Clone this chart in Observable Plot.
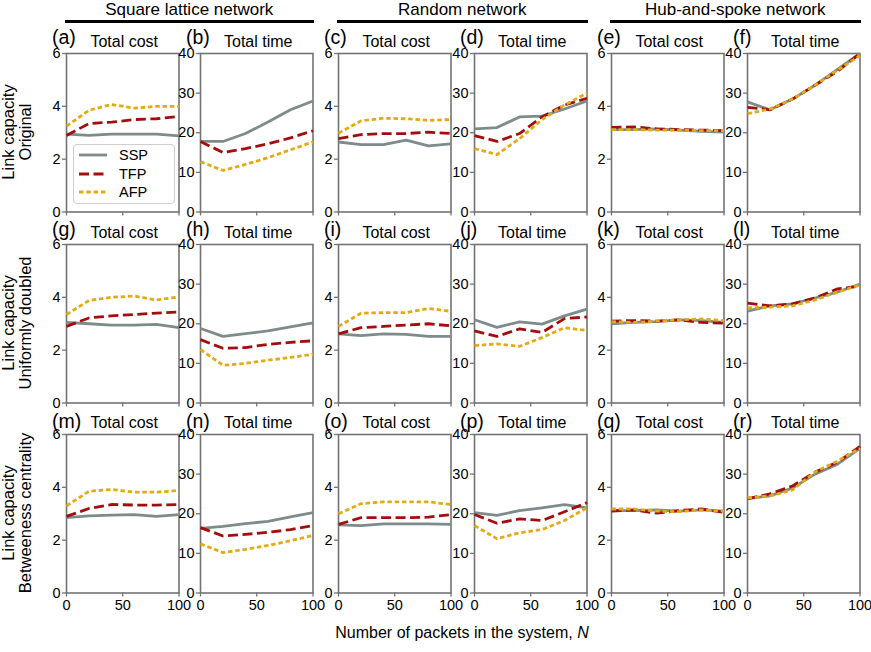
<!DOCTYPE html>
<html>
<head>
<meta charset="utf-8">
<script src="https://cdn.jsdelivr.net/npm/d3@7"></script>
<script src="https://cdn.jsdelivr.net/npm/@observablehq/plot@0.6"></script>
<style>
  html, body { margin: 0; padding: 0; background: #fff; }
  #root { position: relative; width: 871px; height: 652px; font-family: "Liberation Sans", Arial, sans-serif; color: #000; overflow: hidden; }
  .abs { position: absolute; white-space: nowrap; }
</style>
</head>
<body>
<div id="root"></div>
<script>
// ---------- data ----------
const N = [0, 20, 40, 60, 80, 100];
const methods = ["SSP", "TFP", "AFP"];
const networks = ["Square lattice network", "Random network", "Hub-and-spoke network"];
const capacities = [["Link capacity", "Original"], ["Link capacity", "Uniformly doubled"], ["Link capacity", "Betweeness centrality"]];
const metrics = ["Total cost", "Total time"];
const panelLetters = ["a","b","c","d","e","f","g","h","i","j","k","l","m","n","o","p","q","r"];
const costTicks = [0, 2, 4, 6];
const timeTicks = [0, 10, 20, 30, 40];
const xTicks = [0, 50, 100];

// Row 1: original capacity
const pA = { SSP: [2.95, 2.9, 2.95, 2.95, 2.95, 2.88], TFP: [2.9, 3.35, 3.4, 3.5, 3.53, 3.62], AFP: [3.25, 3.85, 4.07, 3.93, 4.0, 4.0] };
const pB = { SSP: [17.8, 17.8, 19.8, 22.7, 25.8, 28], TFP: [17.8, 15, 16, 17.2, 18.7, 20.5], AFP: [12.7, 10.5, 12, 13.7, 15.7, 17.7] };
const pC = { SSP: [2.65, 2.55, 2.55, 2.72, 2.5, 2.58], TFP: [2.78, 2.93, 2.97, 2.97, 3.02, 2.97], AFP: [2.98, 3.45, 3.55, 3.53, 3.47, 3.5] };
const pD = { SSP: [21, 21.3, 24, 24.2, 26, 28], TFP: [19.3, 17.8, 19.8, 24, 27, 28.7], AFP: [16, 14.5, 18.5, 23.3, 27, 30] };
const pE = { SSP: [3.12, 3.12, 3.15, 3.1, 3.05, 3.02], TFP: [3.2, 3.22, 3.15, 3.12, 3.1, 3.08], AFP: [3.12, 3.12, 3.1, 3.1, 3.08, 3.08] };
const pF = { SSP: [27.8, 25.8, 28.5, 32, 36, 40], TFP: [26.4, 25.8, 28.5, 32, 35.5, 40], AFP: [24.8, 26, 28.5, 32, 35.8, 39.5] };
// Row 2: uniformly doubled
const pG = { SSP: [3.05, 3.0, 2.95, 2.95, 2.98, 2.85], TFP: [2.9, 3.22, 3.3, 3.35, 3.4, 3.45], AFP: [3.35, 3.88, 4.0, 4.05, 3.9, 4.02] };
const pH = { SSP: [18.8, 16.8, 17.5, 18.2, 19.2, 20.2], TFP: [16, 13.8, 14.0, 14.8, 15.3, 15.7], AFP: [13.5, 9.5, 10, 10.8, 11.5, 12.3] };
const pI = { SSP: [2.62, 2.55, 2.62, 2.6, 2.52, 2.52], TFP: [2.62, 2.85, 2.9, 2.95, 3.0, 2.92], AFP: [2.9, 3.4, 3.42, 3.42, 3.58, 3.47] };
const pJ = { SSP: [21, 19.1, 20.5, 19.9, 22, 23.7], TFP: [18.2, 16.8, 18.7, 17.8, 21.3, 21.7], AFP: [14.5, 14.9, 14.3, 16.5, 19.0, 18.3] };
const pK = { SSP: [3.0, 3.05, 3.08, 3.15, 3.12, 3.05], TFP: [3.1, 3.12, 3.1, 3.15, 3.05, 3.02], AFP: [3.08, 3.05, 3.1, 3.15, 3.18, 3.12] };
const pL = { SSP: [23.2, 24.5, 25, 26.5, 28, 30], TFP: [25.2, 24.5, 25, 26.5, 28.8, 29.5], AFP: [24, 24.2, 24.5, 26, 28, 29.8] };
// Row 3: betweenness centrality
const pM = { SSP: [2.85, 2.92, 2.95, 2.97, 2.9, 2.97], TFP: [2.9, 3.2, 3.35, 3.33, 3.33, 3.35], AFP: [3.3, 3.85, 3.92, 3.82, 3.82, 3.88] };
const pN = { SSP: [16.3, 16.8, 17.5, 18.1, 19.2, 20.3], TFP: [16.5, 14.4, 14.8, 15.3, 16, 17], AFP: [12.4, 10.2, 11, 12, 13.2, 14.5] };
const pO = { SSP: [2.58, 2.55, 2.62, 2.62, 2.62, 2.6], TFP: [2.6, 2.85, 2.85, 2.85, 2.87, 2.97], AFP: [3.0, 3.38, 3.45, 3.45, 3.45, 3.35] };
const pP = { SSP: [20.3, 19.6, 20.8, 21.5, 22.3, 21.5], TFP: [19.8, 17.6, 18.7, 18.3, 20.5, 22.8], AFP: [17, 13.7, 15.2, 16, 18.3, 21.5] };
const pQ = { SSP: [3.12, 3.12, 3.15, 3.1, 3.15, 3.1], TFP: [3.1, 3.15, 3.02, 3.12, 3.18, 3.05], AFP: [3.18, 3.18, 3.1, 3.08, 3.15, 3.1] };
const pR = { SSP: [23.8, 24.5, 26.5, 30, 32.5, 36.5], TFP: [23.8, 25, 27, 30.5, 33, 37], AFP: [24, 24.5, 26, 30.5, 33.3, 36.5] };

const panels = [pA, pB, pC, pD, pE, pF, pG, pH, pI, pJ, pK, pL, pM, pN, pO, pP, pQ, pR];

// ---------- styles ----------
const colors = { SSP: "#7e8b8b", TFP: "#a30d0d", AFP: "#e3aa14" };
const dashes = { SSP: null, TFP: "10,4.5", AFP: "4.5,2.8" };
const lineW = 2.8;
const frameColor = "#737373";

// ---------- layout ----------
const colLeft = [66, 200, 338, 474, 611, 747];
const rowTop = [53, 244, 434];
const letterBase = [9.5, 8, 6];   // baseline offset of panel letters above each row
const pw = 112.5, ph = 158.5;
const mL = 34, mR = 10, mT = 4, mB = 24;

const root = document.getElementById("root");
function addDiv(html, css) {
  const d = document.createElement("div");
  d.className = "abs";
  d.innerHTML = html;
  Object.assign(d.style, css);
  root.appendChild(d);
  return d;
}

panels.forEach((p, idx) => {
  const r = Math.floor(idx / 6), c = idx % 6;
  const isCost = c % 2 === 0;
  const yDomain = isCost ? [0, 6] : [0, 40];
  const yt = isCost ? costTicks : timeTicks;
  const bottom = r === 2;
  const marks = [];
  marks.push(Plot.frame({ stroke: frameColor, strokeWidth: 1.6 }));
  marks.push(Plot.axisY({ ticks: yt, tickSize: 4, tickPadding: 2, stroke: frameColor, strokeWidth: 1.3, fill: "#000", fontSize: 14.5, label: null, tickFormat: d => String(d) }));
  if (bottom) {
    marks.push(Plot.axisX({ ticks: xTicks, tickSize: 4, tickPadding: 3, stroke: frameColor, strokeWidth: 1.3, fill: "#000", fontSize: 14.5, label: null, tickFormat: d => String(d) }));
  } else {
    marks.push(Plot.tickX(xTicks, { x: d => d, stroke: frameColor, strokeWidth: 1.3, insetTop: ph, insetBottom: -4 }));
  }
  methods.forEach(m => {
    const rows = N.map((n, i) => ({ n, v: p[m][i] }));
    const opts = { x: "n", y: "v", stroke: colors[m], strokeWidth: lineW, strokeLinejoin: "round", strokeLinecap: "butt" };
    if (dashes[m]) opts.strokeDasharray = dashes[m];
    marks.push(Plot.line(rows, opts));
  });
  const svg = Plot.plot({
    width: pw + mL + mR,
    height: ph + mT + mB,
    marginLeft: mL, marginRight: mR, marginTop: mT, marginBottom: mB,
    x: { domain: [0, 100], axis: null },
    y: { domain: yDomain, axis: null },
    style: { background: "transparent", overflow: "visible", fontFamily: "'Liberation Sans', Arial, sans-serif", fontSize: "14.5px", color: "#000" },
    marks
  });
  svg.style.position = "absolute";
  svg.style.left = (colLeft[c] - mL) + "px";
  svg.style.top = (rowTop[r] - mT) + "px";
  svg.style.maxWidth = "none";
  root.appendChild(svg);

  // panel letter and title
  addDiv("(" + panelLetters[idx] + ")", { left: (colLeft[c] - 14) + "px", top: (rowTop[r] - letterBase[r] - 11.76) + "px", fontSize: "19.5px", lineHeight: "10px" });
  addDiv(metrics[c % 2], { left: (colLeft[c] + pw / 2 + 2) + "px", top: (rowTop[r] - 16.6) + "px", fontSize: "16px", lineHeight: "12px", transform: "translateX(-50%)" });
});

// network headers
networks.forEach((name, k) => {
  const x0 = colLeft[2 * k] - 1, x1 = colLeft[2 * k + 1] + pw + 1;
  addDiv(name, { left: ((x0 + x1) / 2) + "px", top: "0px", fontSize: "17px", lineHeight: "19px", transform: "translateX(-50%)" });
  addDiv("", { left: x0 + "px", top: "20px", width: (x1 - x0) + "px", height: "3px", background: "#000" });
});

// row labels
capacities.forEach((lines, r) => {
  const cy = rowTop[r] + ph / 2;
  addDiv(lines[0] + "<br>" + lines[1], {
    left: "17px", top: cy + "px", fontSize: "16.5px", lineHeight: "17px", textAlign: "center",
    transform: "translate(-50%, -50%) rotate(-90deg)"
  });
});

// x label
addDiv("Number of packets in the system, <i>N</i>", { left: "462px", top: "624px", fontSize: "16px", lineHeight: "18px", transform: "translateX(-50%)" });

// legend
const leg = addDiv("", { left: "73px", top: "144px", width: "100px", height: "58px", border: "1px solid #cfcfcf", borderRadius: "4px", background: "rgba(255,255,255,0.85)" });
methods.forEach((m, i) => {
  const y = 10 + i * 18.5;
  const dash = dashes[m] ? `stroke-dasharray="${dashes[m]}"` : "";
  const item = document.createElement("div");
  item.style.cssText = `position:absolute;left:4px;top:${y - 9}px;height:18px;display:flex;align-items:center;font-size:14.5px;`;
  item.innerHTML = `<svg width="30" height="18" style="margin-right:11px"><line x1="1" y1="9" x2="29" y2="9" stroke="${colors[m]}" stroke-width="${lineW}" ${dash}/></svg>${m}`;
  leg.appendChild(item);
});
</script>
</body>
</html>
